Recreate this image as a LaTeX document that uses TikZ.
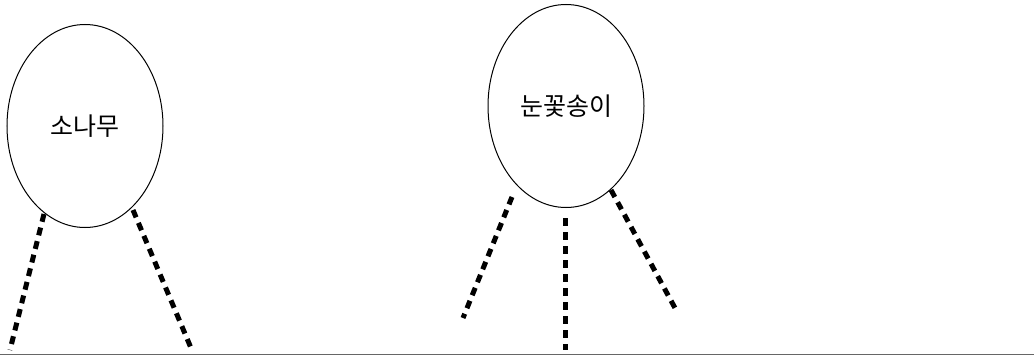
\documentclass[tikz,border=0pt]{standalone}
\usepackage{fontspec}
\newfontfamily\kr{Noto Sans CJK KR}
\usetikzlibrary{shapes.geometric}

\begin{document}
\begin{tikzpicture}[x=1pt,y=-1pt,line width=1,
    blob/.style={ellipse,draw,inner sep=0,minimum width=156,minimum height=203,font=\kr\fontsize{25}{30}\selectfont},
    leg/.style={line width=5,dash pattern=on 8 off 6}]
    \useasboundingbox (0,0) rectangle (1034,356);
			\node[blob] (n0) at (85,126) {소나무};
			\node[blob] (n1) at (566,106) {눈꽃송이};
			\coordinate (q1) at (10,350);
			\coordinate (q2) at (191,348);
			\coordinate (q3) at (463,318);
			\coordinate (q4) at (565,350);
			\coordinate (q5) at (675,308);
			\draw[leg] ([shift={(-41,88)}]n0.center)--(q1);
			\draw[leg] ([shift={(48,84)}]n0.center)--(q2);
			\draw[leg] ([shift={(-54,91)}]n1.center)--(q3);
			\draw[leg] ([shift={(-1,112)}]n1.center)--(q4);
			\draw[leg] ([shift={(45,84)}]n1.center)--(q5);
			\draw[gray!80!black,line width=1.5] (0,354.5)--(1034,354.5);
		\end{tikzpicture}
\end{document}
